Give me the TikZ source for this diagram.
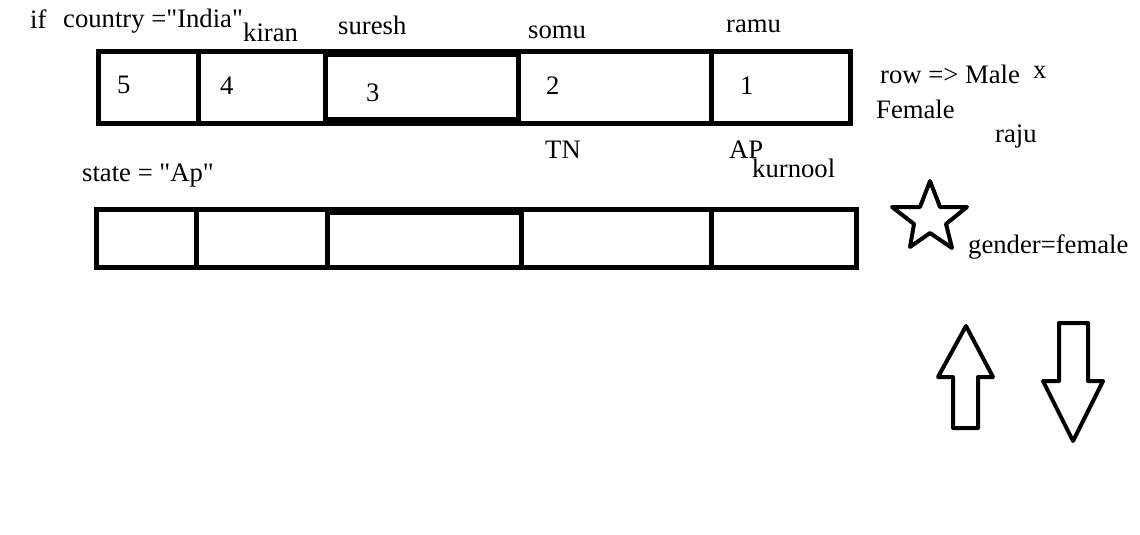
\documentclass[tikz,border=0pt]{standalone}
\usepackage{fontspec}
\setmainfont{Liberation Serif}[Ligatures=TeXOff]
\begin{document}
\begin{tikzpicture}[x=1pt,y=-1pt,
  lbl/.style={anchor=base west,inner sep=0pt,font=\fontsize{26.67}{32}\selectfont},
  cellline/.style={line width=5pt},
  shapeline/.style={line width=4pt,line join=round}]
\useasboundingbox (0,0) rectangle (1140,535);
% first row of cells
\draw [cellline] (98.5,52) rectangle (850.5,123);
\draw [cellline] (198,52) -- (198,123);
\draw [cellline] (325,54.5) rectangle (518.5,119.5);
\draw [cellline] (711.5,52) -- (711.5,123);
% second row of cells
\draw [cellline] (96.5,209.5) rectangle (856.5,267);
\draw [cellline] (196.5,209.5) -- (196.5,267);
\draw [cellline] (327.5,212.5) rectangle (521.5,267);
\draw [cellline] (711.5,209.5) -- (711.5,267);
% star
\draw [shapeline] (930,181) -- (940,207) -- (967,207) -- (946,224) -- (952,248)
  -- (930,233) -- (910,247) -- (914,224) -- (892,207) -- (920,207) -- cycle;
% up and down arrows
\draw [shapeline] (966,326) -- (993,377) -- (978,377) -- (978,428) -- (953,428)
  -- (953,377) -- (938,377) -- cycle;
\draw [shapeline] (1059,323) -- (1088,323) -- (1088,381) -- (1103,381) -- (1073,441)
  -- (1043,381) -- (1059,381) -- cycle;
% labels
\node [lbl] (if) at (30,29) {if};
\node [lbl] (country) at (63,28) {country ="India"};
\node [lbl] (kiran) at (243,42) {kiran};
\node [lbl] (suresh) at (338,35) {suresh};
\node [lbl] (somu) at (528,38) {somu};
\node [lbl] (ramu) at (726,33) {ramu};
\node [lbl] (v5) at (117,93) {5};
\node [lbl] (v4) at (220,94) {4};
\node [lbl] (v3) at (366,101) {3};
\node [lbl] (v2) at (546,94) {2};
\node [lbl] (v1) at (740,94) {1};
\node [lbl] (row) at (880,83) {row => Male};
\node [lbl] (x) at (1033,78) {x};
\node [lbl] (female) at (876,118) {Female};
\node [lbl] (raju) at (995,142) {raju};
\node [lbl] (tn) at (545,158) {TN};
\node [lbl] (ap) at (729,158) {AP};
\node [lbl] (kurnool) at (752,177) {kurnool};
\node [lbl] (state) at (82,181) {state = "Ap"};
\node [lbl] (gender) at (968,253) {gender=female};
\end{tikzpicture}
\end{document}
